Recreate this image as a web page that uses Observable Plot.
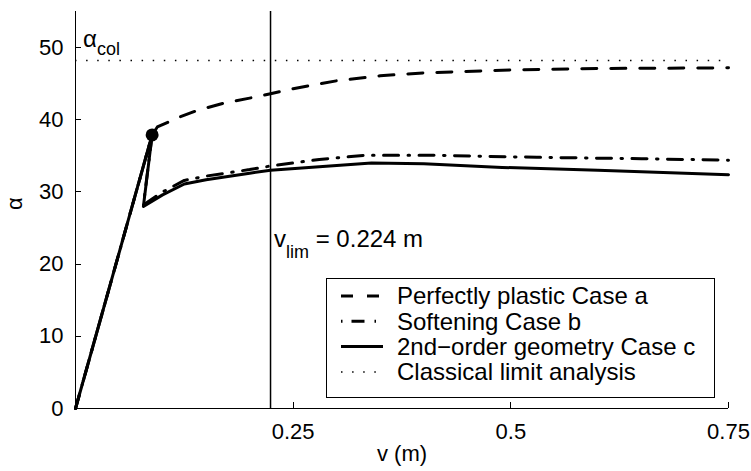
<!DOCTYPE html>
<html><head><meta charset="utf-8">
<script src="https://cdn.jsdelivr.net/npm/d3@7"></script>
<script src="https://cdn.jsdelivr.net/npm/@observablehq/plot@0.6"></script>
<style>body{margin:0;background:#fff}</style>
</head><body><div id="chart"></div>
<script>
// Case a: perfectly plastic (dashed)
const vA     = [0, 0.088, 0.094, 0.12, 0.14, 0.17, 0.2, 0.224, 0.25, 0.3, 0.35, 0.4, 0.5, 0.6, 0.75];
const alphaA = [0, 37.9, 39.0, 40.4, 41.3, 42.3, 43.0, 43.6, 44.3, 45.4, 46.1, 46.5, 46.9, 47.1, 47.2];
// Case b: softening (dash-dot)
const vB     = [0, 0.088, 0.078, 0.1, 0.125, 0.15, 0.2, 0.224, 0.28, 0.334, 0.4, 0.53, 0.65, 0.75];
const alphaB = [0, 37.9, 28.2, 30.0, 31.6, 32.2, 33.1, 33.6, 34.5, 35.1, 35.1, 34.8, 34.6, 34.4];
// Case c: 2nd-order geometry (solid)
const vC     = [0, 0.088, 0.078, 0.1, 0.125, 0.15, 0.2, 0.224, 0.28, 0.34, 0.4, 0.49, 0.6, 0.75];
const alphaC = [0, 37.9, 28.0, 29.6, 31.1, 31.7, 32.6, 33.0, 33.5, 34.0, 33.9, 33.4, 33.0, 32.4];
// Classical limit
const alphaCol = 48.2;
const vLim = 0.224;
const peakV = 0.088, peakAlpha = 37.9;

const xTicks = [0.25, 0.5, 0.75];
const xTickLabels = ["0.25", "0.5", "0.75"];
const yTicks = [0, 10, 20, 30, 40, 50];
const legendLabels = ["Perfectly plastic Case a", "Softening Case b", "2nd\u2212order geometry Case c", "Classical limit analysis"];

const FONT = 22;
const LFONT = 24;
const SUB = 18;
const FAMILY = "'Liberation Sans', Arial, Helvetica, sans-serif";
const toRows = (vs, as) => vs.map((v, i) => ({v, a: as[i]}));
const xDomain = [0, 0.75], yDomain = [0, 55];
const TICK = 6; // px

const dashA = "15,14";
const dashB = "15,9.5,1.5,9.5";
const dashD = "1.5,9.6";

function ticks(index, scales, values, dims) {
  const g = d3.create("svg:g").attr("stroke", "black").attr("stroke-width", 1);
  const y0 = scales.y(0), x0 = scales.x(0);
  xTicks.forEach(d => g.append("line").attr("x1", Math.round(scales.x(d)) + 0.5).attr("x2", Math.round(scales.x(d)) + 0.5)
    .attr("y1", y0).attr("y2", y0 - TICK));
  yTicks.filter(d => d > 0).forEach(d => g.append("line").attr("y1", Math.round(scales.y(d)) + 0.5).attr("y2", Math.round(scales.y(d)) + 0.5)
    .attr("x1", x0).attr("x2", x0 + TICK));
  return g.node();
}

function annotations(index, scales, values, dims) {
  const g = d3.create("svg:g").attr("font-family", FAMILY).attr("fill", "black").attr("text-anchor", "start").attr("stroke", "none");
  const t1 = g.append("text").attr("x", scales.x(0) + 8).attr("y", scales.y(alphaCol) - 13).attr("font-size", LFONT);
  t1.append("tspan").text("\u03b1");
  t1.append("tspan").attr("dy", 8).attr("font-size", SUB).text("col");
  const t2 = g.append("text").attr("x", scales.x(vLim) + 4).attr("y", scales.y(22.3)).attr("font-size", LFONT);
  t2.append("tspan").text("v");
  t2.append("tspan").attr("dy", 11).attr("font-size", SUB).text("lim");
  t2.append("tspan").attr("dy", -11).text(" = 0.224 m");
  return g.node();
}

function legend(index, scales, values, dims) {
  const {width, height, marginRight, marginBottom} = dims;
  const right = width - marginRight - 14, bottom = height - marginBottom - 11;
  const w = 388, h = 119, left = right - w, top = bottom - h;
  const g = d3.create("svg:g").attr("font-family", FAMILY).attr("font-size", LFONT).attr("text-anchor", "start");
  g.append("rect").attr("x", left + 0.5).attr("y", top + 0.5).attr("width", w).attr("height", h)
    .attr("fill", "white").attr("stroke", "black").attr("stroke-width", 1);
  const styles = [
    {dash: "12,14", sw: 3},
    {dash: "1.5,9,13,10,1.5,20", sw: 3},
    {dash: null, sw: 3},
    {dash: "1.5,9.6", sw: 1.5}
  ];
  legendLabels.forEach((lab, i) => {
    const y = top + 18 + i * 25.3;
    const ln = g.append("line").attr("x1", left + 15).attr("x2", left + 57).attr("y1", y).attr("y2", y)
      .attr("stroke", "black").attr("stroke-width", styles[i].sw);
    if (styles[i].dash) ln.attr("stroke-dasharray", styles[i].dash);
    g.append("text").attr("x", left + 71).attr("y", y).attr("dy", "0.35em").attr("fill", "black").attr("stroke", "none").text(lab);
  });
  return g.node();
}

const chart = Plot.plot({
  width: 751, height: 471,
  marginLeft: 75, marginRight: 23, marginTop: 11, marginBottom: 63,
  style: {fontFamily: FAMILY, fontSize: FONT + "px", background: "white", color: "black"},
  x: {domain: xDomain},
  y: {domain: yDomain},
  marks: [
    Plot.ruleY([alphaCol], {stroke: "black", strokeWidth: 1.5, strokeDasharray: dashD}),
    Plot.ruleX([vLim], {stroke: "black", strokeWidth: 1.5}),
    Plot.ruleX([0], {stroke: "black", strokeWidth: 1}),
    Plot.ruleY([0], {stroke: "black", strokeWidth: 1}),
    Plot.axisX(xTicks, {tickSize: 0, tickPadding: 15, tickFormat: d => xTickLabels[xTicks.indexOf(d)], label: null, fontSize: FONT}),
    Plot.axisY(yTicks, {tickSize: 0, tickPadding: 12, tickFormat: d => String(d), label: null, fontSize: FONT}),
    ticks,
    Plot.line(toRows(vA, alphaA), {x: "v", y: "a", stroke: "black", strokeWidth: 3, strokeDasharray: dashA}),
    Plot.line(toRows(vB, alphaB), {x: "v", y: "a", stroke: "black", strokeWidth: 3, strokeDasharray: dashB}),
    Plot.line(toRows(vC, alphaC), {x: "v", y: "a", stroke: "black", strokeWidth: 3}),
    Plot.dot([{v: peakV, a: peakAlpha}], {x: "v", y: "a", r: 6.5, fill: "black"}),
    Plot.text(["v (m)"], {frameAnchor: "bottom", dy: 52, fontSize: FONT}),
    Plot.text(["\u03b1"], {frameAnchor: "left", dx: -61, rotate: -90, fontSize: FONT}),
    annotations,
    legend
  ]
});
document.getElementById("chart").append(chart);
</script>
</body></html>
